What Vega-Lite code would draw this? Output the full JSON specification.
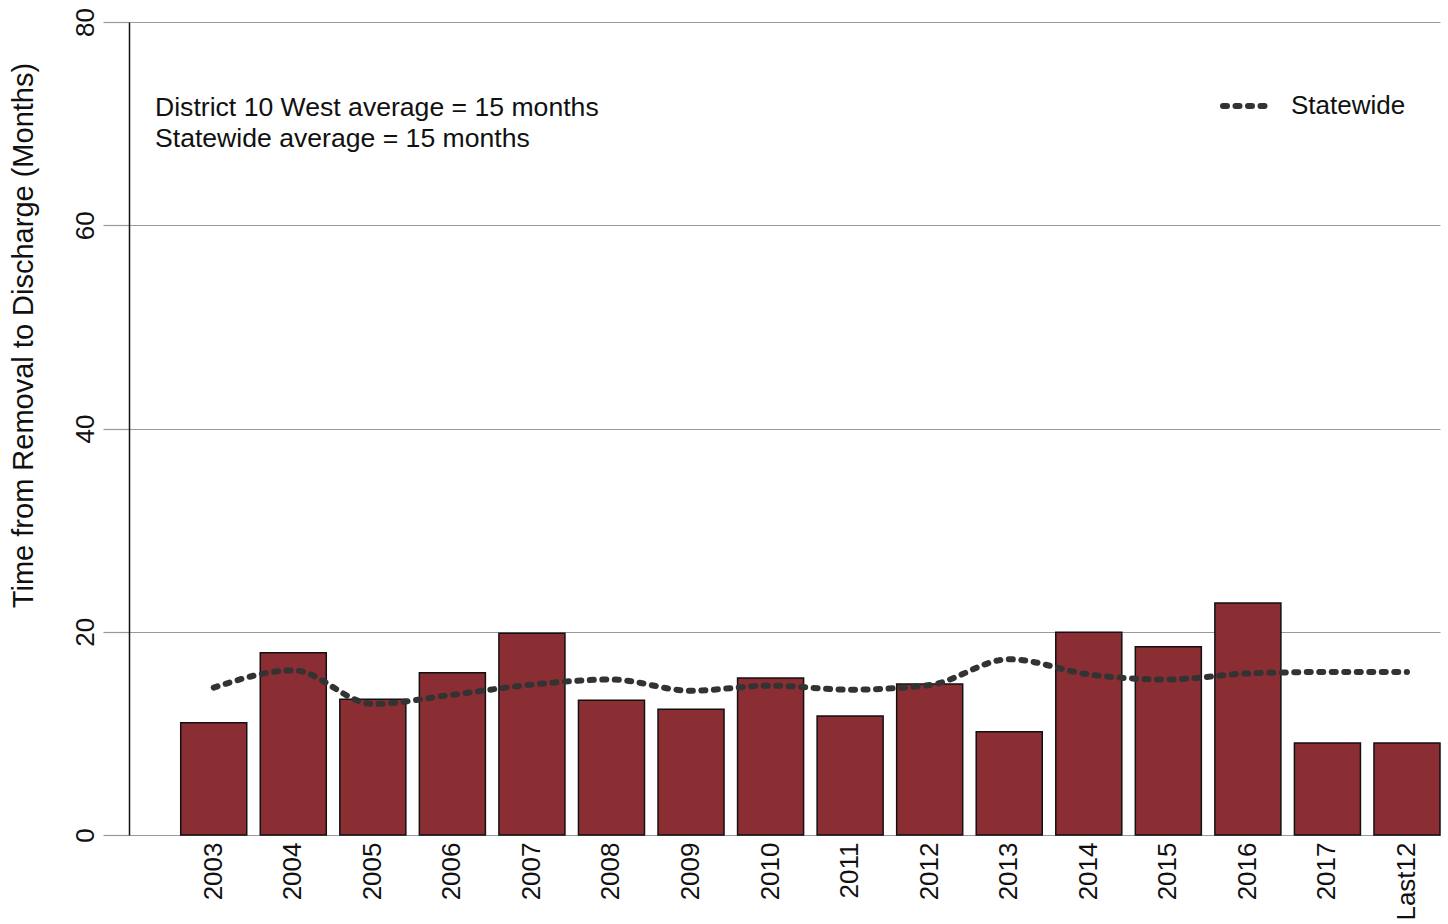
{
  "$schema": "https://vega.github.io/schema/vega-lite/v6.json",
  "width": 1311,
  "height": 813,
  "autosize": {"type": "none"},
  "padding": {"left": 129, "top": 22, "right": 8, "bottom": 89},
  "background": "white",
  "config": {
    "font": "Liberation Sans",
    "view": {"stroke": null}
  },
  "title": {
    "text": ["District 10 West average = 15 months", "Statewide average = 15 months"],
    "anchor": "start",
    "frame": "group",
    "orient": "top",
    "baseline": "top",
    "font": "Liberation Sans",
    "fontSize": 26.6,
    "fontWeight": "normal",
    "color": "#111111",
    "lineHeight": 31,
    "dx": 26,
    "dy": 145,
    "offset": 0
  },
  "data": {
    "values": [
      {"period": "2003", "district": 11.05, "statewide": 14.5},
      {"period": "2004", "district": 17.94, "statewide": 16.2},
      {"period": "2005", "district": 13.35, "statewide": 12.9},
      {"period": "2006", "district": 15.97, "statewide": 13.8},
      {"period": "2007", "district": 19.85, "statewide": 14.8},
      {"period": "2008", "district": 13.25, "statewide": 15.3},
      {"period": "2009", "district": 12.37, "statewide": 14.2},
      {"period": "2010", "district": 15.45, "statewide": 14.7},
      {"period": "2011", "district": 11.7, "statewide": 14.3},
      {"period": "2012", "district": 14.86, "statewide": 14.76},
      {"period": "2013", "district": 10.17, "statewide": 17.3},
      {"period": "2014", "district": 19.95, "statewide": 15.8},
      {"period": "2015", "district": 18.53, "statewide": 15.3},
      {"period": "2016", "district": 22.83, "statewide": 15.9},
      {"period": "2017", "district": 9.05, "statewide": 16.04},
      {"period": "Last12", "district": 9.05, "statewide": 16.04}
    ]
  },
  "encoding": {
    "x": {
      "field": "period",
      "type": "nominal",
      "sort": null,
      "scale": {"paddingInner": 0.17, "paddingOuter": 0.325, "align": 1},
      "axis": {
        "title": null,
        "domain": false,
        "ticks": false,
        "grid": false,
        "labelAngle": 270,
        "labelAlign": "right",
        "labelBaseline": "middle",
        "labelPadding": 7,
        "labelFont": "Liberation Sans",
        "labelFontSize": 26,
        "labelColor": "#111111"
      }
    }
  },
  "layer": [
    {
      "mark": {"type": "bar", "fill": "#8B2E34", "stroke": "#111111", "strokeWidth": 1.5},
      "encoding": {
        "y": {
          "field": "district",
          "type": "quantitative",
          "scale": {"domain": [0, 80], "nice": false},
          "axis": {
            "values": [0, 20, 40, 60, 80],
            "title": "Time from Removal to Discharge (Months)",
            "titleFont": "Liberation Sans",
            "titleFontSize": 29,
            "titleFontWeight": "normal",
            "titleColor": "#111111",
            "titleAngle": 270,
            "titleAlign": "center",
            "titleBaseline": "middle",
            "titleX": -106,
            "titleY": 313,
            "grid": true,
            "gridColor": "#999999",
            "gridWidth": 1.2,
            "tickColor": "#999999",
            "tickSize": 26,
            "tickWidth": 1.2,
            "domainColor": "#111111",
            "domainWidth": 1.5,
            "labelAngle": 270,
            "labelAlign": "center",
            "labelBaseline": "alphabetic",
            "labelPadding": 10,
            "labelFont": "Liberation Sans",
            "labelFontSize": 26,
            "labelColor": "#111111"
          }
        }
      }
    },
    {
      "mark": {
        "type": "line",
        "interpolate": "monotone",
        "strokeWidth": 6,
        "strokeCap": "round",
        "strokeDash": [4, 8.5]
      },
      "encoding": {
        "y": {"field": "statewide", "type": "quantitative"},
        "color": {
          "datum": "Statewide",
          "type": "nominal",
          "scale": {"range": ["#333333"]},
          "legend": {
            "title": null,
            "orient": "none",
            "legendX": 1091,
            "legendY": 56,
            "padding": 0,
            "symbolType": "stroke",
            "symbolSize": 2500,
            "symbolStrokeWidth": 6,
            "symbolDash": [4, 8.5],
            "symbolOffset": 0,
            "labelFont": "Liberation Sans",
            "labelFontSize": 26,
            "labelColor": "#111111",
            "labelOffset": 15,
            "encode": {"symbols": {"update": {"strokeCap": {"value": "round"}}}}
          }
        }
      }
    }
  ]
}
